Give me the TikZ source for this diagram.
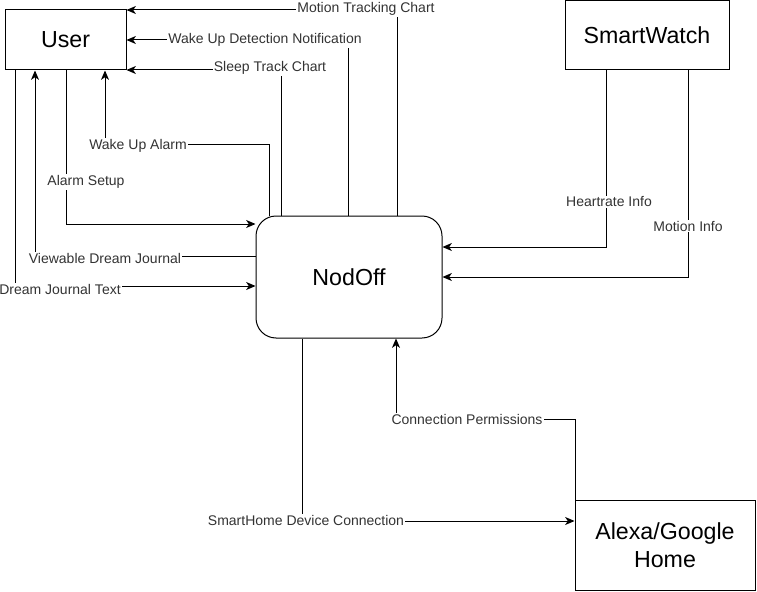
\documentclass[tikz,border=0pt]{standalone}
\usepackage{fontspec}
\setmainfont{Liberation Sans}
\usetikzlibrary{arrows.meta}
\begin{document}
\begin{tikzpicture}[x=0.75pt,y=-0.75pt,
  box/.style={draw, line width=0.75pt, inner sep=0pt, align=center, font=\fontsize{17.4}{21}\selectfont},
  arr/.style={draw, line width=0.75pt, -{Stealth[length=7pt,width=6pt,inset=2pt]}},
  lab/.style={fill=white, inner sep=1pt, text=black!80, font=\fontsize{10.5}{12}\selectfont}]
\useasboundingbox (0,0) rectangle (757,592);
\node[box, minimum width=121*0.75pt, minimum height=60*0.75pt] (user) at (65.5,40) {User};
\node[box, minimum width=164*0.75pt, minimum height=69*0.75pt] (watch) at (647,35.5) {SmartWatch};
\node[box, rounded corners=15pt, minimum width=186*0.75pt, minimum height=122*0.75pt] (nodoff) at (349,277) {NodOff};
\node[box, minimum width=180*0.75pt, minimum height=90*0.75pt] (alexa) at (665,545) {Alexa/Google\\Home};
% coordinates
\coordinate (c1) at (397,10);
\coordinate (c2) at (348,40);
\coordinate (c3) at (281,70);
\coordinate (c4) at (269,144);
\coordinate (c4b) at (105,144);
\coordinate (c5) at (66,224);
\coordinate (c6) at (35,256);
\coordinate (c7) at (15,286);
\coordinate (c8) at (606,247);
\coordinate (c9) at (688,277);
\coordinate (c10) at (575,419);
\coordinate (c10b) at (396,419);
\coordinate (c11) at (302,521);
% connectors
\draw[arr] (nodoff.north -| c1) |- (user.east |- c1);
\draw[arr] (nodoff.north -| c2) |- (user.east |- c2);
\draw[arr] (nodoff.north -| c3) |- (user.east |- c3);
\draw[arr] (nodoff.north -| c4) |- (c4b) -- (user.south -| c4b);
\draw[arr] (user.south -| c5) |- (nodoff.west |- c5);
\draw[arr] (nodoff.west |- c6) -| (user.south -| c6);
\draw[arr] (user.south -| c7) |- (nodoff.west |- c7);
\draw[arr] (watch.south -| c8) |- (nodoff.east |- c8);
\draw[arr] (watch.south -| c9) |- (nodoff.east |- c9);
\draw[arr] (alexa.north -| c10) |- (c10b) -- (nodoff.south -| c10b);
\draw[arr] (nodoff.south -| c11) |- (alexa.west |- c11);
% labels
\node[lab] (l1) at (366,9) {Motion Tracking Chart};
\node[lab] (l2) at (265,40) {Wake Up Detection Notification};
\node[lab] (l3) at (270,68) {Sleep Track Chart};
\node[lab] (l4) at (138,146) {Wake Up Alarm};
\node[lab] (l5) at (86,182) {Alarm Setup};
\node[lab] (l6) at (105,258) {Viewable Dream Journal};
\node[lab] (l7) at (60,289) {Dream Journal Text};
\node[lab] (l8) at (609,202) {Heartrate Info};
\node[lab] (l9) at (688,226) {Motion Info};
\node[lab] (l10) at (467,419) {Connection Permissions};
\node[lab] (l11) at (306,520) {SmartHome Device Connection};
\end{tikzpicture}
\end{document}
